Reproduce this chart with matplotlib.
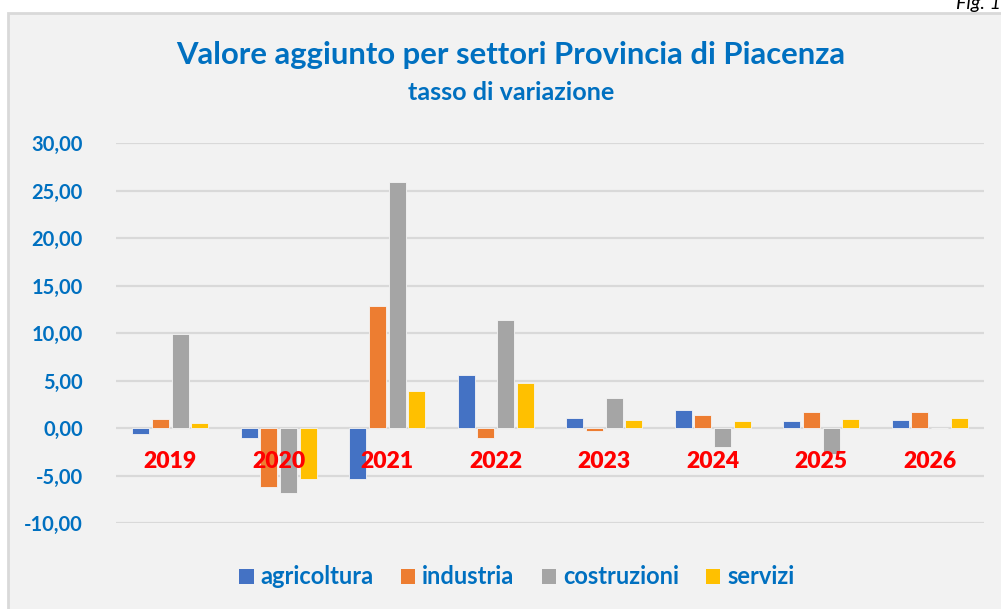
import matplotlib
matplotlib.use("Agg")
import matplotlib.pyplot as plt
import matplotlib.patches as mpatches
from matplotlib.ticker import FuncFormatter, FixedLocator
import numpy as np

# Dati: tasso di variazione del valore aggiunto per settore
anni = ["2019", "2020", "2021", "2022", "2023", "2024", "2025", "2026"]
agricoltura = [-0.6, -1.0, -5.4, 5.6, 1.1, 1.9, 0.7, 0.8]
industria = [0.9, -6.2, 12.8, -1.0, -0.3, 1.4, 1.7, 1.7]
costruzioni = [9.9, -6.8, 25.9, 11.4, 3.2, -2.0, -2.7, 0.0]
servizi = [0.5, -5.4, 3.9, 4.7, 0.8, 0.7, 1.0, 1.1]

settori = ["agricoltura", "industria", "costruzioni", "servizi"]
colori = ["#4472C4", "#ED7D31", "#A5A5A5", "#FFC000"]
serie = [agricoltura, industria, costruzioni, servizi]

BLU = "#0070C0"
FONT = "Lato"

W, H = 1001, 609
fig = plt.figure(figsize=(W / 100, H / 100), dpi=100)
fig.patch.set_facecolor("white")

# riquadro grigio del grafico
box = mpatches.Rectangle((8 / W, -0.02), 1.05, 1 - 13 / H + 0.02,
                         transform=fig.transFigure, facecolor="#F2F2F2",
                         edgecolor="#D9D9D9", linewidth=2, zorder=-5)
fig.patches.append(box)

fig.text(0.9995, 1 - 9 / H, "Fig. 1", ha="right", va="baseline",
         fontsize=14, style="italic", color="black", family=FONT)

ax = fig.add_axes([116 / W, 1 - 523 / H, (984 - 116) / W, (523 - 143) / H])
ax.set_facecolor("none")

x = np.arange(len(anni))
larghezza = 0.155
passo = 0.182
for i, (nome, col, valori) in enumerate(zip(settori, colori, serie)):
    ax.bar(x + (i - 1.5) * passo, valori, width=larghezza, color=col,
           edgecolor="#F5F5F5", linewidth=0.6, label=nome, zorder=3)

ax.set_xlim(-0.5, len(anni) - 0.5)
ax.set_ylim(-10, 30)
ax.yaxis.set_major_locator(FixedLocator(np.arange(-10, 31, 5)))
ax.yaxis.set_major_formatter(FuncFormatter(lambda v, p: f"{v:.2f}".replace(".", ",")))
ax.grid(axis="y", color="#D9D9D9", linewidth=1.6, zorder=0)
ax.set_axisbelow(True)
ax.set_xticks([])
for s in ax.spines.values():
    s.set_visible(False)
ax.tick_params(axis="y", length=0, pad=24, labelsize=14.5, labelcolor=BLU)
for lab in ax.get_yticklabels():
    lab.set_fontweight("bold")
    lab.set_family(FONT)

# etichette degli anni sotto la linea dello zero
for xi, anno in zip(x, anni):
    ax.annotate(anno, xy=(xi, 0), xytext=(0, -34), textcoords="offset pixels",
                ha="center", va="center", fontsize=16.5, fontweight="heavy",
                color="#FF0000", family=FONT, zorder=5)

fig.text(511 / W, 1 - 55 / H, "Valore aggiunto per settori Provincia di Piacenza",
         ha="center", va="center", fontsize=22.3, fontweight="bold", color=BLU, family=FONT)
fig.text(511 / W, 1 - 93 / H, "tasso di variazione",
         ha="center", va="center", fontsize=18.1, fontweight="bold", color=BLU, family=FONT)

handles = [mpatches.Patch(facecolor=c, edgecolor="none") for c in colori]
leg = fig.legend(handles, settori, loc="center", bbox_to_anchor=(517 / W, 1 - 577 / H),
                 ncol=4, frameon=False, handlelength=0.6, handleheight=0.6,
                 handletextpad=0.3, columnspacing=1.15,
                 prop={"family": FONT, "weight": "bold", "size": 17})
for t in leg.get_texts():
    t.set_color(BLU)

fig.savefig("out.png", dpi=100, facecolor=fig.get_facecolor())
